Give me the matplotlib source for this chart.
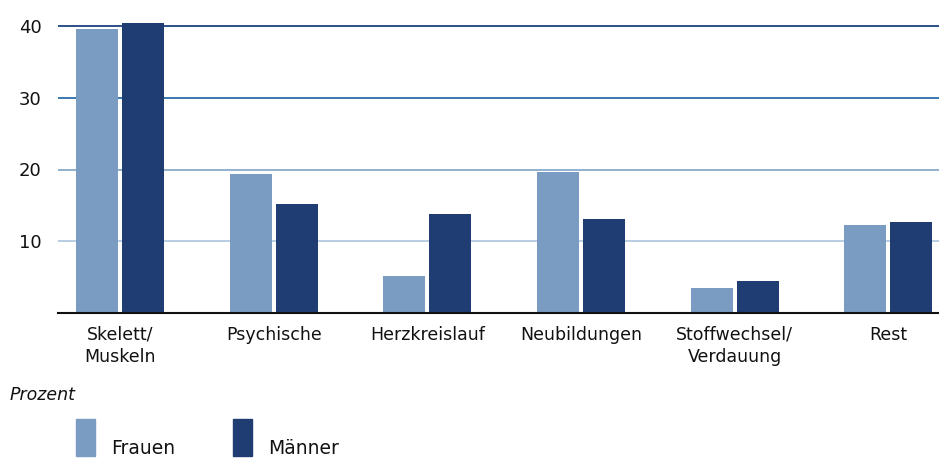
import numpy as np
import matplotlib
matplotlib.use('agg')
import matplotlib.pyplot as plt
from matplotlib.patches import Rectangle

# Anteile nach Diagnosegruppen (Prozent)
categories = ['Skelett/\nMuskeln', 'Psychische', 'Herzkreislauf', 'Neubildungen',
              'Stoffwechsel/\nVerdauung', 'Rest']
frauen = [39.6, 19.4, 5.2, 19.7, 3.5, 12.3]
maenner = [40.4, 15.2, 13.8, 13.1, 4.5, 12.7]
yticks = [10, 20, 30, 40]
grid_colors = ['#b8cce3', '#8fb0cf', '#3a78b0', '#2b4f86']

c_frauen = '#7a9cc2'
c_maenner = '#1f3d72'

plt.rcParams['font.family'] = ['DejaVu Sans']

fig = plt.figure(figsize=(9.39, 4.59), dpi=100)
ymax = 41.0
px_per_unit = (313 - 26) / 40.0
ax = fig.add_axes([58 / 939, 1 - 313 / 459, 1 - 58 / 939, ymax * px_per_unit / 459])

x = np.arange(len(categories))
w = 0.273
off = 0.149

for yv, gc in zip(yticks, grid_colors):
    ax.axhline(yv, color=gc, lw=1.4, zorder=1)

ax.bar(x - off, frauen, width=w, color=c_frauen, zorder=2)
ax.bar(x + off, maenner, width=w, color=c_maenner, zorder=2)

ax.set_xlim(-0.404, 5.33)
ax.set_ylim(0, ymax)
ax.set_yticks(yticks)
ax.set_yticklabels([str(v) for v in yticks], fontsize=13, color='#111111')
ax.tick_params(axis='y', length=0, pad=12)
ax.set_xticks(x)
ax.set_xticklabels(categories, fontsize=12.5, color='#111111', linespacing=1.35)
ax.tick_params(axis='x', length=0, pad=9)

for s in ['top', 'right', 'left']:
    ax.spines[s].set_visible(False)
ax.spines['bottom'].set_color('#111111')
ax.spines['bottom'].set_linewidth(1.5)
ax.spines['bottom'].set_zorder(3)

fig.text(10 / 939, 1 - 395 / 459, 'Prozent', fontsize=12.5, style='italic',
         color='#111111', va='center', ha='left')

# Legende
for px, label, col in [(76, 'Frauen', c_frauen), (233, 'Männer', c_maenner)]:
    fig.patches.append(Rectangle((px / 939, 1 - 456 / 459), 19 / 939, 37 / 459,
                                 transform=fig.transFigure, color=col, figure=fig))
    fig.text((px + 35) / 939, 1 - 458 / 459, label, fontsize=13.5,
             color='#111111', va='bottom', ha='left')

fig.savefig('out.png', dpi=100)
plt.close(fig)
